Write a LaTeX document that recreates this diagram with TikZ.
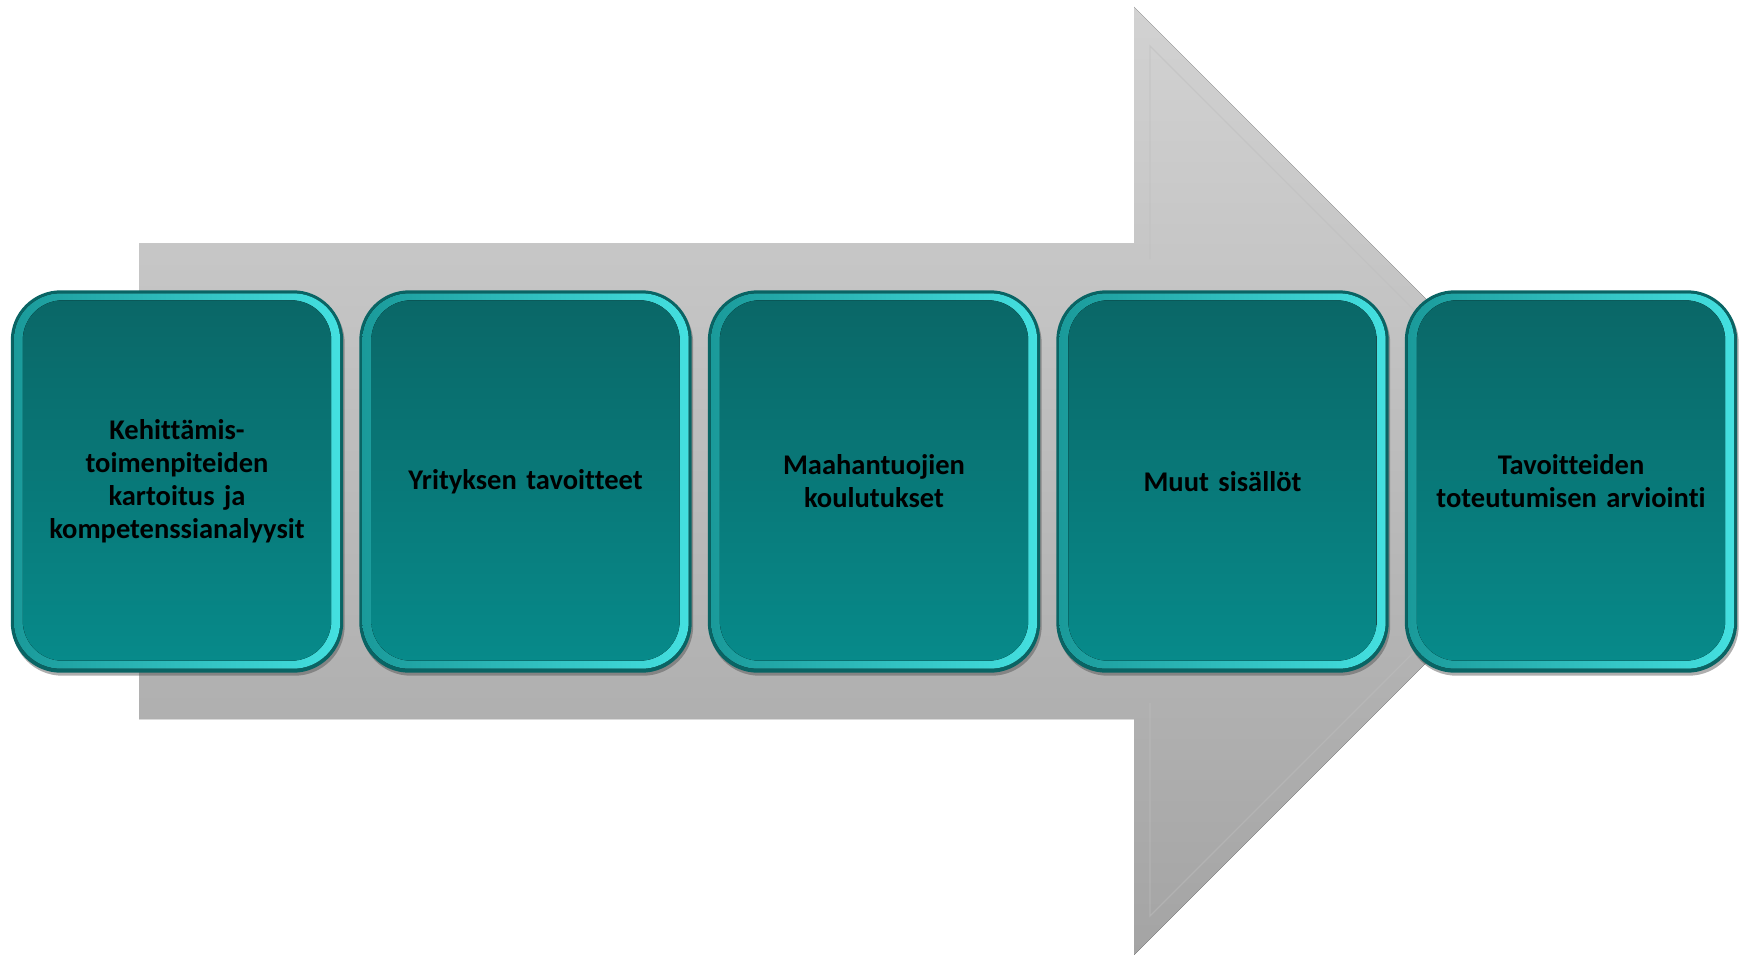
\documentclass[tikz,border=0pt]{standalone}
\usepackage{fontspec}
\setmainfont{Carlito}[Ligatures={NoCommon},WordSpace=0.85]
\usetikzlibrary{backgrounds,shadows}
\definecolor{arrowtop}{HTML}{D2D2D2}
\definecolor{arrowbot}{HTML}{A4A4A4}
\definecolor{arrowedge}{HTML}{BEBEBE}
\definecolor{rimout}{HTML}{096464}
\definecolor{rimleft}{HTML}{1A9A9A}
\definecolor{rimmid}{HTML}{0C8080}
\definecolor{rimright}{HTML}{44E0E0}
\definecolor{facetop}{HTML}{0A6767}
\definecolor{facebot}{HTML}{078A8A}
\tikzset{
  x=1pt, y=-1pt,
  stepbox/.style={minimum width=332pt, minimum height=382pt, inner sep=0pt,
    text width=316pt, align=center, text=black,
    font=\fontsize{28.5}{33}\selectfont\bfseries},
  rimo/.style={rounded corners=50pt, fill=rimout,
    drop shadow={opacity=0.45, shadow xshift=1.5pt, shadow yshift=-3pt, fill=black!70}},
  rimi/.style={rounded corners=47pt, left color=rimleft, middle color=rimmid, right color=rimright},
  face/.style={rounded corners=40pt, top color=facetop, bottom color=facebot},
  bigarrow/.style={top color=arrowtop, bottom color=arrowbot}
}
\begin{document}
\begin{tikzpicture}
\useasboundingbox (0,0) rectangle (1747,955);
\node[stepbox] (b1) at (177,481.5) {Kehittämis-\\toimenpiteiden\\kartoitus ja\\kompetenssianalyysit};
\node[stepbox] (b2) at (525.5,481.5) {Yrityksen tavoitteet};
\node[stepbox] (b3) at (874,481.5) {Maahantuojien\\koulutukset};
\node[stepbox] (b4) at (1222.5,481.5) {Muut sisällöt};
\node[stepbox] (b5) at (1571,481.5) {Tavoitteiden\\toteutumisen arviointi};
\begin{pgfonlayer}{background}
  \fill[bigarrow] (139,243) -- (1134,243) -- (1134,7) -- (1608,481) -- (1134,955) -- (1134,719) -- (139,719) -- cycle;
  \draw[arrowedge, line width=1.2pt, opacity=0.5] (1150,259) -- (1150,46) -- (1585,481) -- (1150,916) -- (1150,703);
  \foreach \b in {b1,b2,b3,b4,b5}{
    \fill[rimo] (\b.north west) rectangle (\b.south east);
    \fill[rimi] ([shift={(3,3)}]\b.north west) rectangle ([shift={(-3,-4)}]\b.south east);
    \fill[face] ([shift={(12,10)}]\b.north west) rectangle ([shift={(-12,-12)}]\b.south east);
  }
\end{pgfonlayer}
\end{tikzpicture}
\end{document}
